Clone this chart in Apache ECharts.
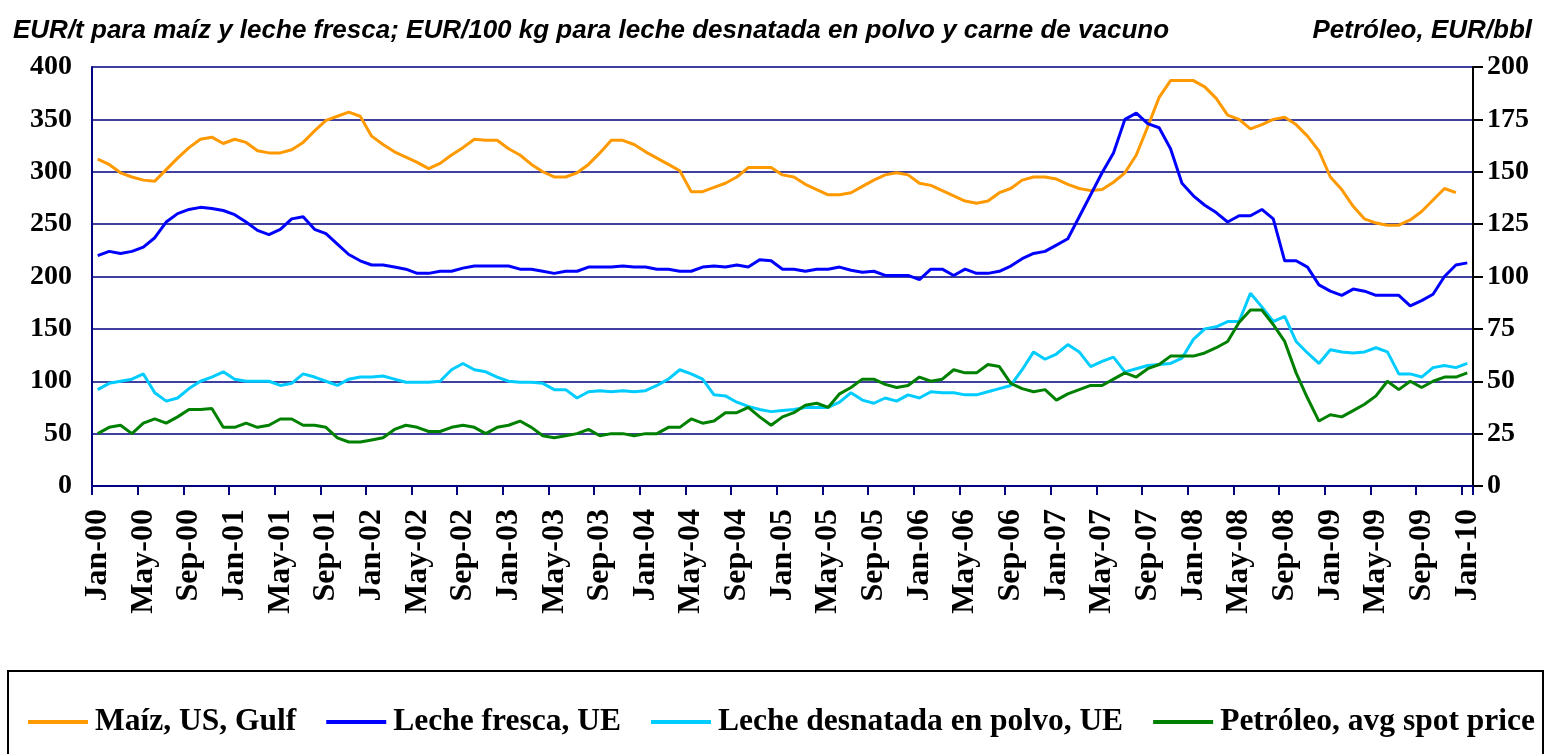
<!DOCTYPE html>
<html>
<head>
<meta charset="utf-8">
<script src="https://cdn.jsdelivr.net/npm/echarts@6/dist/echarts.min.js"></script>
<style>
  html, body { margin: 0; padding: 0; background: #fff; }
  #chart { width: 1546px; height: 754px; }
</style>
</head>
<body>
<div id="chart"></div>
<script>
// month labels Jan-00 .. Jan-10
const monthNames = ["Jan", "Feb", "Mar", "Apr", "May", "Jun", "Jul", "Aug", "Sep", "Oct", "Nov", "Dec"];
const months = [];
for (let y = 0; y <= 10; y++) {
  for (let m = 0; m < 12; m++) {
    if (y === 10 && m > 0) break;
    months.push(monthNames[m] + "-" + String(y).padStart(2, "0"));
  }
}

// EUR/t (left axis)
const maiz = [
  312, 307, 299, 295, 292, 291, 302, 313, 323, 331, 333, 327,
  331, 328, 320, 318, 318, 321, 328, 339, 349, 353, 357, 353,
  334, 326, 319, 314, 309, 303, 308, 316, 323, 331, 330, 330,
  322, 316, 307, 300, 295, 295, 299, 307, 318, 330, 330, 326,
  319, 313, 307, 301, 281, 281, 285, 289, 295, 304, 304, 304,
  297, 295, 288, 283, 278, 278, 280, 286, 292, 297, 299, 297,
  289, 287, 282, 277, 272, 270, 272, 280, 284, 292, 295, 295,
  293, 288, 284, 282, 283, 290, 299, 316, 343, 371, 387, 387,
  387, 381, 370, 354, 350, 341, 345, 350, 352, 345, 334, 320,
  295, 283, 267, 255, 251, 249, 249, 254, 262, 273, 284, 280
];

const lecheFresca = [
  220, 224, 222, 224, 228, 237, 252, 260, 264, 266, 265, 263,
  259, 252, 244, 240, 245, 255, 257, 245, 241, 231, 221, 215,
  211, 211, 209, 207, 203, 203, 205, 205, 208, 210, 210, 210,
  210, 207, 207, 205, 203, 205, 205, 209, 209, 209, 210, 209,
  209, 207, 207, 205, 205, 209, 210, 209, 211, 209, 216, 215,
  207, 207, 205, 207, 207, 209, 206, 204, 205, 201, 201, 201,
  197, 207, 207, 201, 207, 203, 203, 205, 210, 217, 222, 224,
  230, 236, 257, 278, 299, 318, 350, 356, 346, 342, 322, 289,
  277, 268, 261, 252, 258, 258, 264, 255, 215, 215, 209, 192,
  186, 182, 188, 186, 182, 182, 182, 172, 177, 183, 200, 211,
  213
];

// EUR/100 kg (left axis)
const lecheDesnatada = [
  92, 98, 100, 102, 107, 89, 81, 84, 93, 100, 104, 109,
  102, 100, 100, 100, 96, 98, 107, 104, 100, 96, 102, 104,
  104, 105, 102, 99, 99, 99, 100, 111, 117, 111, 109, 104,
  100, 99, 99, 98, 92, 92, 84, 90, 91, 90, 91, 90,
  91, 96, 102, 111, 107, 102, 87, 86, 80, 76, 73, 71,
  72, 73, 75, 75, 75, 80, 89, 82, 79, 84, 81, 87,
  84, 90, 89, 89, 87, 87, 90, 93, 96, 111, 128, 121,
  126, 135, 128, 114, 119, 123, 109, 112, 115, 116, 117, 122,
  140, 150, 152, 157, 157, 184, 171, 157, 162, 138, 127, 117,
  130, 128, 127, 128, 132, 128, 107, 107, 104, 113, 115, 113,
  117
];

// EUR/bbl (right axis)
const petroleo = [
  25, 28, 29, 25, 30, 32, 30, 33, 36.5, 36.5, 37, 28,
  28, 30, 28, 29, 32, 32, 29, 29, 28, 23, 21, 21,
  22, 23, 27, 29, 28, 26, 26, 28, 29, 28, 25, 28,
  29, 31, 28, 24, 23, 24, 25, 27, 24, 25, 25, 24,
  25, 25, 28, 28, 32, 30, 31, 35, 35, 37.5, 33, 29,
  33, 35, 38.5, 39.5, 37.5, 44, 47, 51, 51, 48.5, 47, 48,
  52, 50, 51, 55.5, 54, 54, 58, 57, 49, 46.5, 45, 46,
  41, 44, 46, 48, 48, 51, 54, 52, 56, 58, 62, 62,
  62, 63.5, 66, 69, 78, 84, 84, 77, 69, 54, 42, 31,
  34, 33, 36, 39, 43, 50, 46, 50, 47, 50, 52, 52,
  54
];

const navy = "#000080";
const serif = "'Liberation Serif', 'Times New Roman', serif";
const sans = "'Liberation Sans', Arial, sans-serif";

const chart = echarts.init(document.getElementById("chart"));

const lineSeries = (name, data, color, axis) => ({
  name: name,
  type: "line",
  yAxisIndex: axis,
  data: data,
  symbol: "none",
  smooth: false,
  lineStyle: { color: color, width: 3 },
  itemStyle: { color: color }
});

chart.setOption({
  animation: false,
  backgroundColor: "#fff",
  title: [
    {
      text: "EUR/t para maíz y leche fresca; EUR/100 kg para leche desnatada en polvo y carne de vacuno",
      left: 8,
      top: 13,
      textStyle: { fontFamily: sans, fontStyle: "italic", fontWeight: "bold", fontSize: 26, color: "#000" }
    },
    {
      text: "Petróleo, EUR/bbl",
      right: 9,
      top: 13,
      textStyle: { fontFamily: sans, fontStyle: "italic", fontWeight: "bold", fontSize: 26, color: "#000" }
    }
  ],
  grid: { left: 92, right: 73, top: 67, bottom: 268, containLabel: false },
  legend: {
    left: 28,
    top: 706,
    width: 1515,
    padding: 0,
    itemWidth: 60,
    itemHeight: 4,
    itemGap: 30,
    icon: "rect",
    textStyle: { fontFamily: serif, fontWeight: "bold", fontSize: 31.5, color: "#000", padding: [0, 0, 0, 2] },
    data: ["Maíz, US, Gulf", "Leche fresca, UE", "Leche desnatada en polvo, UE", "Petróleo, avg spot price"]
  },
  graphic: [
    {
      type: "rect",
      shape: { x: 8, y: 671, width: 1535, height: 100 },
      style: { fill: "none", stroke: "#000", lineWidth: 2 },
      z: -1
    }
  ],
  xAxis: {
    type: "category",
    data: months,
    boundaryGap: true,
    axisLine: { lineStyle: { color: navy, width: 2 } },
    axisTick: { show: true, interval: 3, length: 9, lineStyle: { color: navy, width: 2 } },
    axisLabel: {
      interval: 3,
      rotate: 90,
      margin: 23,
      fontFamily: serif,
      fontWeight: "bold",
      fontSize: 32,
      color: "#000"
    },
    splitLine: { show: false }
  },
  yAxis: [
    {
      type: "value",
      min: 0,
      max: 400,
      interval: 50,
      position: "left",
      axisLine: { show: true, lineStyle: { color: navy, width: 2 } },
      axisTick: { show: false },
      axisLabel: { margin: 20, fontFamily: serif, fontWeight: "bold", fontSize: 28, color: "#000" },
      splitLine: { show: true, lineStyle: { color: navy, width: 1.5 } }
    },
    {
      type: "value",
      min: 0,
      max: 200,
      interval: 25,
      position: "right",
      axisLine: { show: true, lineStyle: { color: "#000", width: 2 } },
      axisTick: { show: true, length: 10, lineStyle: { color: "#000", width: 2 } },
      axisLabel: { margin: 14, fontFamily: serif, fontWeight: "bold", fontSize: 28, color: "#000" },
      splitLine: { show: false }
    }
  ],
  series: [
    lineSeries("Maíz, US, Gulf", maiz, "#FF9900", 0),
    lineSeries("Leche fresca, UE", lecheFresca, "#0000FF", 0),
    lineSeries("Leche desnatada en polvo, UE", lecheDesnatada, "#00CCFF", 0),
    lineSeries("Petróleo, avg spot price", petroleo, "#008000", 1)
  ]
});

window.addEventListener("resize", () => chart.resize());
</script>
</body>
</html>
